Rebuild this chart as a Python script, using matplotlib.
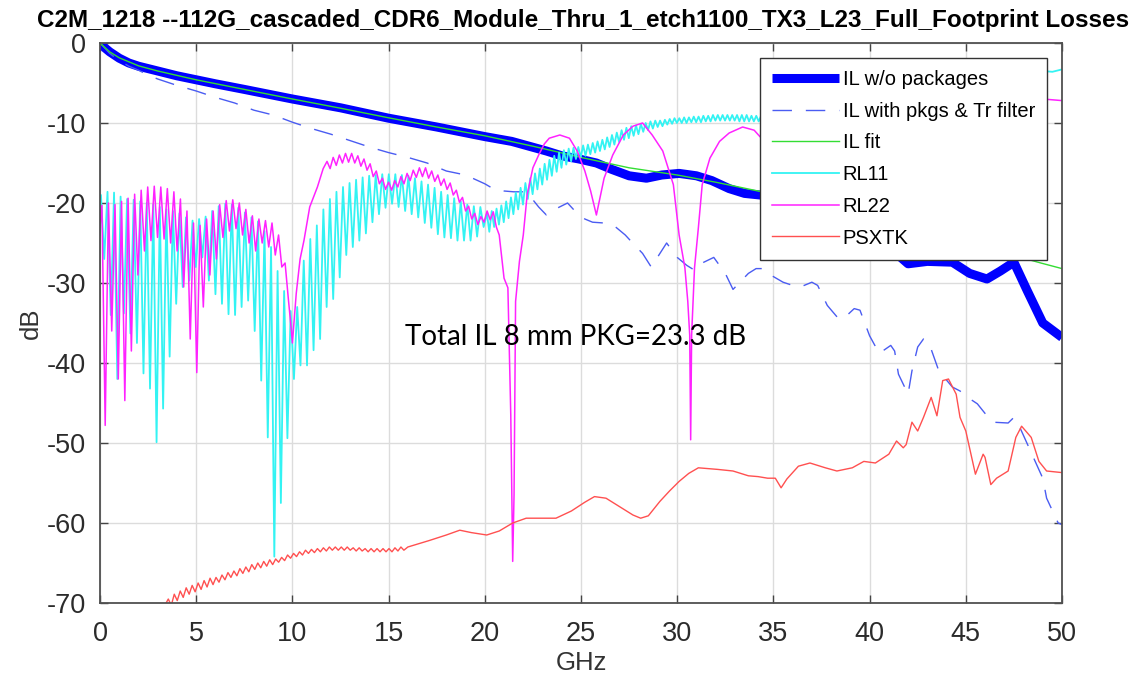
import numpy as np
import matplotlib
matplotlib.use("Agg")
import matplotlib.pyplot as plt

plt.rcParams['font.family'] = ['Liberation Sans', 'DejaVu Sans']
plt.rcParams['lines.scale_dashes'] = False
plt.rcParams['axes.unicode_minus'] = False

TITLE = "C2M_1218 --112G_cascaded_CDR6_Module_Thru_1_etch1100_TX3_L23_Full_Footprint Losses"
LABELS = ["IL w/o packages", "IL with pkgs & Tr filter", "IL fit", "RL11", "RL22", "PSXTK"]
NOTE = "Total IL 8 mm PKG=23.3 dB"
X_TICKS = [0, 5, 10, 15, 20, 25, 30, 35, 40, 45, 50]
Y_TICKS = [0, -10, -20, -30, -40, -50, -60, -70]

# IL w/o packages (thick blue)
il_f = [0, 0.25, 0.5, 1, 1.5, 2, 3, 4, 5, 6, 7.5, 10, 12.5, 15, 17.5, 20, 21.4, 22.3,
        23.2, 24.0, 24.9, 25.8, 26.6, 27.5, 28.4, 29.2, 30.1, 31.0, 31.8, 32.7, 33.5,
        34.3, 35.5, 37, 38.5, 40, 41, 42, 43, 44.3, 45.2, 46.1, 46.8, 47.5, 48.2, 49.0, 50.0]
il_db = [0, -0.6, -1.1, -1.9, -2.5, -2.9, -3.5, -4.1, -4.6, -5.1, -5.8, -7.0, -8.1, -9.4,
         -10.5, -11.7, -12.3, -12.9, -13.5, -14.1, -14.5, -15.0, -15.8, -16.6, -16.9, -16.5,
         -16.3, -16.6, -17.2, -18.2, -18.8, -19.0, -19.3, -20.2, -21.7, -23.5, -25.5, -27.6,
         -27.3, -27.4, -28.8, -29.5, -28.5, -27.4, -31.0, -35.0, -36.8]

# IL with pkgs & Tr filter (dashed)
pk_f = [0, 0.5, 1, 1.5, 2, 2.5, 3, 3.5, 4, 5, 6, 7, 8, 9, 10, 11, 12, 13, 14, 15, 16, 17,
        18, 19, 20, 20.5, 21, 21.5, 22.0, 22.3, 22.8, 23.2, 23.5, 23.8, 24.3, 24.8, 25.2,
        25.6, 26.2, 26.7, 27.3, 27.8, 28.2, 28.65, 29.45, 30.0, 30.5, 30.9, 31.3, 31.9,
        32.5, 32.9, 33.7, 34.1, 34.5, 35.0, 35.5, 36.0, 36.4, 37.0, 37.3, 37.8, 38.4, 38.8,
        39.2, 39.5, 40.0, 40.5, 41.1, 41.3, 41.5, 42.0, 42.2, 42.5, 42.8, 43.1, 43.6, 44.3,
        44.7, 45.1, 45.6, 46.0, 46.4, 47.2, 47.5, 47.8, 48.4, 49.0, 49.2, 49.8, 50.0]
pk_db = [0, -1.3, -2.2, -2.9, -3.4, -4.0, -4.5, -4.9, -5.3, -6.0, -6.8, -7.5, -8.4, -9.0,
         -9.9, -10.7, -11.4, -12.2, -13.0, -13.7, -14.3, -15.0, -16.0, -16.5, -17.6, -18.3,
         -18.5, -18.6, -18.6, -19.0, -20.5, -21.5, -21.0, -20.6, -20.0, -21.3, -22.0, -22.4,
         -22.5, -22.8, -24.0, -25.3, -26.3, -28.0, -25.0, -26.8, -27.8, -28.4, -27.5, -26.8,
         -28.8, -30.8, -28.8, -28.2, -28.2, -29.2, -29.9, -30.3, -30.5, -29.9, -30.3, -32.8,
         -34.5, -34.1, -33.2, -33.4, -36.6, -38.8, -37.8, -38.5, -41.4, -43.9, -41.0, -38.0,
         -37.0, -37.6, -41.0, -43.0, -43.5, -44.3, -45.1, -46.3, -47.4, -47.5, -46.8, -48.0,
         -51.2, -54.4, -56.9, -60.0, -60.2]

# IL fit (green)
fit_f = [0, 0.5, 1, 2, 3, 5, 7.5, 10, 12.5, 15, 17.5, 20, 22.5, 25, 27.5, 30, 32, 35, 40,
         45, 48.9, 50]
fit_db = [0, -1.1, -1.85, -2.85, -3.5, -4.6, -5.8, -7.0, -8.15, -9.35, -10.5, -11.6, -12.9,
          -14.3, -15.6, -16.5, -17.4, -18.9, -21.8, -24.9, -27.5, -28.2]

# RL11: ripple peaks / troughs (spacing ~0.34 GHz, then ~0.25 GHz)
rl11_head_f, rl11_head_db = [0.0], [-24.0]
rl11_a_start, rl11_a_step = 0.05, 0.34
rl11_a_peak = [-19.0, -18.6, -18.7, -19.2, -19.5, -19.6, -19.8, -20.0, -20.2, -20.5,
               -20.8, -21.0, -21.3, -21.8, -22.2, -22.0, -21.7, -21.0, -20.4, -20.1,
               -20.2, -20.6, -21.2, -21.8, -22.3, -23.5, -25.5, -28.5, -31.0, -33.5,
               -33.0, -27.2, -24.5, -22.8, -20.8, -19.5, -18.6, -18.0, -17.5, -17.1,
               -16.8, -16.6, -16.5, -16.4, -16.4, -16.4, -16.5, -16.6, -16.9, -17.3,
               -17.7, -18.1, -18.6, -19.0, -19.4, -19.8, -20.2, -20.4, -20.5]
rl11_a_trough = [-27.0, -34.0, -42.0, -33.8, -36.3, -37.5, -41.3, -43.2, -49.9, -45.7,
                 -39.2, -32.6, -30.5, -29.7, -28.0, -26.8, -29.7, -31.4, -32.6, -33.9,
                 -34.0, -33.0, -32.2, -36.0, -42.2, -49.3, -64.2, -57.5, -49.4, -42.0,
                 -40.3, -40.3, -38.4, -37.0, -33.0, -32.0, -29.3, -26.5, -25.5, -24.7,
                 -23.8, -22.4, -21.4, -20.6, -20.1, -20.5, -21.0, -21.4, -21.8, -22.5,
                 -23.1, -23.9, -24.3, -24.4, -24.7, -24.7, -24.7, -24.2, -23.0]
rl11_b_start, rl11_b_step = 20.11, 0.25
rl11_b_peak = [-21.3, -21.0, -20.7, -20.3, -19.8, -19.3, -18.7, -18.1, -17.5, -16.9,
               -16.3, -15.7, -15.1, -14.6, -14.1, -13.7, -13.4, -13.2, -13.1, -13.0,
               -12.8, -12.7, -12.5, -12.3, -12.1, -11.8, -11.5, -11.2, -10.9, -10.6,
               -10.4, -10.3, -10.1, -10.0, -9.8, -9.7, -9.7, -9.6, -9.5, -9.4,
               -9.4, -9.3, -9.3, -9.2, -9.2, -9.1, -9.1, -9.0, -9.0, -9.0,
               -9.0, -9.0, -9.0, -9.0, -9.0, -9.1, -9.1, -9.1]
rl11_b_trough = [-23.6, -23.0, -22.7, -22.4, -21.9, -21.4, -20.8, -20.2, -19.5, -18.9,
                 -18.3, -17.7, -17.1, -16.6, -16.1, -15.6, -15.2, -14.8, -14.5, -14.3,
                 -14.1, -13.9, -13.7, -13.5, -13.3, -13.0, -12.7, -12.4, -12.1, -11.9,
                 -11.6, -11.4, -11.1, -10.9, -10.7, -10.5, -10.4, -10.2, -10.1, -10.0,
                 -10.0, -10.0, -9.9, -9.9, -9.9, -9.8, -9.8, -9.7, -9.7, -9.7,
                 -9.7, -9.7, -9.8, -9.8, -9.8, -9.8, -9.8, -9.8]
rl11_tail_f = [34.8, 36, 38, 40, 42, 44, 46, 48, 49, 49.5, 50]
rl11_tail_db = [-8.9, -8.5, -7.6, -6.7, -5.8, -5.0, -4.4, -3.9, -3.5, -3.6, -3.3]

# RL22
rl22_head_f, rl22_head_db = [0.0], [-23.0]
rl22_a_start, rl22_a_step = 0.10, 0.34
rl22_a_peak = [-20.3, -20.0, -20.2, -19.8, -19.4, -18.9, -18.4, -18.0, -17.9, -18.0,
               -18.2, -18.6, -19.5, -21.0, -22.5, -22.8, -22.0, -21.0, -20.2, -19.7,
               -19.6, -20.0, -20.8, -21.6, -22.0, -22.2, -22.5, -24.0, -27.5]
rl22_a_trough = [-47.8, -36.0, -42.0, -44.7, -38.5, -29.0, -26.0, -24.7, -24.3, -24.5,
                 -25.0, -26.0, -30.5, -37.0, -41.2, -33.0, -29.0, -27.0, -24.3, -23.5,
                 -23.2, -24.0, -25.0, -26.0, -25.0, -25.5, -26.5, -28.0, -32.0]
rl22_mid_f = [9.95, 10.0, 10.2, 10.4, 10.6, 10.9, 11.3, 11.6]
rl22_mid_db = [-36.0, -37.5, -31.3, -27.0, -24.7, -20.5, -18.0, -15.7]
rl22_b_start, rl22_b_step = 11.8, 0.32
rl22_b_peak = [-14.8, -14.3, -14.0, -13.8, -13.8, -14.1, -14.5, -15.1, -16.0, -16.9,
               -17.4, -17.2, -16.7, -16.3, -15.9, -15.6, -15.6, -16.0, -16.5, -17.0,
               -17.5, -18.4, -19.3, -20.4, -21.3, -21.7, -21.0, -21.1]
rl22_b_trough = [-15.7, -15.3, -15.0, -14.9, -15.0, -15.4, -15.9, -16.7, -17.6, -18.3,
                 -18.4, -18.0, -17.6, -17.2, -16.8, -16.7, -16.9, -17.3, -17.8, -18.3,
                 -19.0, -19.9, -21.0, -22.0, -22.7, -22.4, -22.1, -23.0]
rl22_tail_f = [20.75, 21.0, 21.2, 21.35, 21.45, 21.52, 21.6, 21.8, 22.0, 22.2, 22.5, 22.8,
               23.1, 23.35, 23.9, 24.4, 24.8, 25.2, 25.5, 25.8, 25.95, 26.2, 26.65, 27.2,
               27.7, 28.2, 28.7, 29.25, 29.8, 30.1, 30.4, 30.55, 30.65, 30.7, 30.75, 30.9,
               31.1, 31.3, 31.7, 32.2, 32.7, 33.4, 34.0, 34.3, 35, 36.5, 38, 40, 42, 44,
               46, 48, 49, 50]
rl22_tail_db = [-24.0, -29.4, -30.6, -46.5, -64.8, -56.5, -32.3, -27.3, -24.0, -19.0,
                -15.6, -14.0, -12.6, -11.9, -11.5, -11.9, -13.5, -16.0, -18.5, -21.5,
                -19.8, -16.9, -14.0, -11.5, -10.4, -10.0, -11.5, -13.5, -17.7, -24.0,
                -28.1, -32.3, -36.5, -49.6, -36.5, -28.1, -23.1, -17.7, -14.4, -12.3,
                -11.25, -10.5, -10.9, -11.7, -13.0, -16.0, -13.0, -10.0, -8.5, -8.5,
                -9.0, -7.8, -7.0, -7.2]

# PSXTK
xt_head_f, xt_head_db = [3.3], [-70.6]
xt_a_start, xt_a_step = 3.55, 0.31
xt_a_peak = [-69.5, -68.9, -68.5, -68.1, -67.8, -67.5, -67.2, -66.9, -66.8, -66.5,
             -66.2, -66.0, -65.7, -65.5, -65.2, -65.0, -64.8, -64.6, -64.5, -64.3,
             -64.0, -63.8, -63.6, -63.4, -63.3, -63.2, -63.1, -63.0, -63.0, -63.0,
             -63.0, -63.1, -63.1, -63.2, -63.2, -63.2, -63.2, -63.2, -63.1, -63.0]
xt_a_trough = [-70.3, -69.7, -69.3, -68.9, -68.6, -68.3, -68.0, -67.7, -67.4, -67.1,
               -66.8, -66.6, -66.3, -66.1, -65.8, -65.6, -65.4, -65.2, -64.9, -64.7,
               -64.4, -64.2, -64.0, -63.8, -63.7, -63.6, -63.5, -63.4, -63.4, -63.4,
               -63.4, -63.5, -63.5, -63.6, -63.6, -63.6, -63.6, -63.6, -63.5, -63.4]
xt_tail_f = [16.0, 17.1, 18.0, 18.7, 19.3, 20.1, 20.75, 21.45, 22.15, 23.0, 23.7, 24.5,
             25.2, 25.7, 26.3, 27.1, 27.7, 28.1, 28.5, 29.1, 29.6, 30.1, 30.6, 31.1, 31.6,
             32.1, 32.9, 33.7, 34.2, 34.7, 35.1, 35.4, 35.7, 36.3, 36.9, 37.7, 38.3, 39.1,
             39.7, 40.3, 41.0, 41.4, 41.75, 41.9, 42.2, 42.5, 42.8, 43.2, 43.5, 43.8, 44.1,
             44.5, 44.7, 45.0, 45.5, 45.9, 46.0, 46.3, 46.6, 47.2, 47.6, 47.9, 48.4, 48.8,
             49.2, 50.0]
xt_tail_db = [-63.0, -62.2, -61.5, -60.9, -61.2, -61.5, -61.0, -60.0, -59.4, -59.4, -59.4,
              -58.5, -57.4, -56.7, -56.9, -58.1, -59.0, -59.4, -59.1, -57.3, -56.0, -54.8,
              -53.8, -53.1, -53.2, -53.3, -53.5, -54.1, -54.2, -54.4, -54.4, -55.6, -54.5,
              -52.9, -52.5, -53.1, -53.5, -53.1, -52.3, -52.5, -51.4, -49.75, -50.6, -50.2,
              -47.4, -48.5, -46.8, -44.3, -46.6, -42.2, -42.0, -43.9, -46.8, -48.5, -53.9,
              -51.4, -51.8, -55.2, -54.4, -53.5, -49.3, -47.9, -49.3, -52.3, -53.5, -53.7]


def ripple(start, step, peaks, troughs):
    f0 = start + step * np.arange(len(peaks))
    f = np.column_stack([f0, f0 + step / 2]).ravel()
    db = np.column_stack([peaks, troughs]).ravel()
    return f, db


def join(*parts):
    f = np.concatenate([np.asarray(p[0], float) for p in parts])
    db = np.concatenate([np.asarray(p[1], float) for p in parts])
    return f, db


rl11 = join((rl11_head_f, rl11_head_db),
            ripple(rl11_a_start, rl11_a_step, rl11_a_peak, rl11_a_trough),
            ripple(rl11_b_start, rl11_b_step, rl11_b_peak, rl11_b_trough),
            (rl11_tail_f, rl11_tail_db))
rl22 = join((rl22_head_f, rl22_head_db),
            ripple(rl22_a_start, rl22_a_step, rl22_a_peak, rl22_a_trough),
            (rl22_mid_f, rl22_mid_db),
            ripple(rl22_b_start, rl22_b_step, rl22_b_peak, rl22_b_trough),
            (rl22_tail_f, rl22_tail_db))
xtk = join((xt_head_f, xt_head_db),
           ripple(xt_a_start, xt_a_step, xt_a_peak, xt_a_trough),
           (xt_tail_f, xt_tail_db))

W, H = 1145, 681
fig = plt.figure(figsize=(W / 100, H / 100), dpi=100)
ax = fig.add_axes([100 / W, 1 - 603 / H, 962 / W, 560 / H])

ax.plot(il_f, il_db, color='#0000ff', lw=6.5, solid_capstyle='butt', label=LABELS[0])
ax.plot(pk_f, pk_db, color='#4a5cf2', lw=1.0, dashes=(14, 10), label=LABELS[1])
ax.plot(fit_f, fit_db, color='#33dd33', lw=1.0, label=LABELS[2])
ax.plot(rl11[0], rl11[1], color='#33f3f3', lw=1.3, label=LABELS[3])
ax.plot(rl22[0], rl22[1], color='#ff22ff', lw=1.1, label=LABELS[4])
ax.plot(xtk[0], xtk[1], color='#ff5050', lw=1.0, label=LABELS[5])

ax.set_xlim(0, 50)
ax.set_ylim(-70, 0)
ax.set_xticks(X_TICKS)
ax.set_yticks(Y_TICKS)
ax.grid(True, color='#dcdcdc', lw=1.0)
ax.set_axisbelow(True)
ax.tick_params(direction='in', length=6, width=1.0, colors='#444444',
               top=True, right=True, labelsize=19.5, pad=10)
ax.tick_params(axis='x', pad=13)
ax.tick_params(labelcolor='#2b2b2b')
for s in ax.spines.values():
    s.set_color('#505050')
    s.set_linewidth(1.3)

ax.set_xlabel("GHz", fontsize=18.5, color='#333333', labelpad=3)
ax.set_ylabel("dB", fontsize=18.5, color='#333333', labelpad=3)
fig.text(583 / W, 1 - 20 / H, TITLE, ha='center', va='center',
         fontsize=17.5, fontweight='bold')
ax.text(15.85, -36.8, NOTE, fontsize=20, family=['Lato', 'DejaVu Sans'],
        va='center', ha='left')

leg = ax.legend(loc='upper left', bbox_to_anchor=(760 / W, 1 - 58 / H),
                bbox_transform=fig.transFigure, borderaxespad=0, fontsize=14.5,
                fancybox=False, framealpha=1, edgecolor='#333333',
                handlelength=3.3, handletextpad=0.2, labelspacing=0.63,
                borderpad=0.6)
leg.get_frame().set_linewidth(1.0)

fig.savefig('out.png', dpi=100)
